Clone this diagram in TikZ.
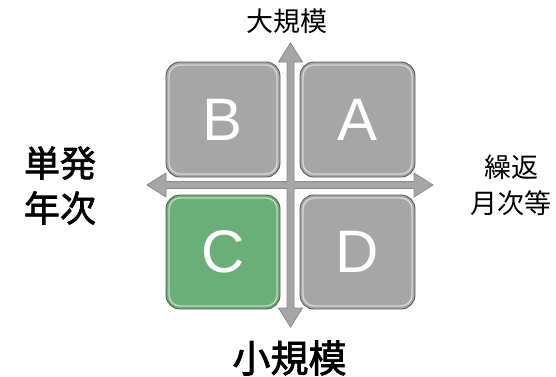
\documentclass[tikz,border=0pt]{standalone}
\usepackage{fontspec}
\usetikzlibrary{calc}
\setmainfont{Liberation Sans}
\newfontfamily\cjk{Noto Sans CJK JP}
\newfontfamily\cjkb{Noto Sans CJK JP}[FakeBold=2]
\definecolor{boxgray}{HTML}{A6A6A6}
\definecolor{boxgreen}{HTML}{6AAE78}
\definecolor{edgegray}{HTML}{595959}
\definecolor{axisgray}{HTML}{A6A6A6}
\definecolor{axisedge}{HTML}{8A8A8A}
\tikzset{
  quad/.style={draw=edgegray, line width=0.9pt, rounded corners=14pt, fill=boxgray},
  quadgreen/.style={quad, fill=boxgreen},
  shine/.style={draw=white, draw opacity=0.55, line width=1.4pt, rounded corners=11pt},
  letter/.style={text=white, font=\fontsize{60}{60}\selectfont},
  axis/.style={fill=axisgray, draw=axisedge, line width=0.8pt, line join=miter}
}
\begin{document}
\begin{tikzpicture}[x=1pt,y=-1pt]
\useasboundingbox (0,0) rectangle (556,376);
% axis geometry
\def\cx{290.5}\def\cy{185}\def\w{3.5}\def\hh{19}\def\hw{12}
\coordinate (top) at (\cx,43);
\coordinate (bot) at (\cx,327);
\coordinate (lft) at (147,\cy);
\coordinate (rgt) at (433,\cy);
% boxes
\draw[quad] (166,62) rectangle (280,177);
\draw[quad] (300,62) rectangle (415,177);
\draw[quadgreen] (166,195) rectangle (280,309);
\draw[quad] (300,195) rectangle (415,309);
\draw[shine] (169,65) rectangle (277,174);
\draw[shine] (303,65) rectangle (412,174);
\draw[shine] (169,198) rectangle (277,306);
\draw[shine] (303,198) rectangle (412,306);
\node[letter] (B) at (223,119.5) {B};
\node[letter] (A) at (357.5,119.5) {A};
\node[letter] (C) at (223,252) {C};
\node[letter] (D) at (357.5,252) {D};
% cross of arrows
\draw[axis] (top) -- ++(\hw,\hh) -- ++(-\hw+\w,0) |- ($(rgt)+(-\hh,-\w)$) -- ++(0,\w-\hw) -- (rgt) -- ++(-\hh,\hw) -- ++(0,\w-\hw) -| ($(bot)+(\w,-\hh)$) -- ++(\hw-\w,0) -- (bot) -- ++(-\hw,-\hh) -- ++(\hw-\w,0) |- ($(lft)+(\hh,\w)$) -- ++(0,\hw-\w) -- (lft) -- ++(\hh,-\hw) -- ++(0,\hw-\w) -| ($(top)+(-\w,\hh)$) -- ++(\w-\hw,0) -- cycle;
% labels
\node[font=\cjk\fontsize{27}{27}\selectfont] (big) at (287,21) {大規模};
\node[font=\cjkb\fontsize{38}{38}\selectfont] (small) at (289.5,358) {小規模};
\node[align=center, font=\cjkb\fontsize{36}{45}\selectfont] (single) at (60,185.5) {単発\\年次};
\node[align=center, font=\cjk\fontsize{27}{36}\selectfont] (repeat) at (511,185) {繰返\\月次等};
\end{tikzpicture}
\end{document}
